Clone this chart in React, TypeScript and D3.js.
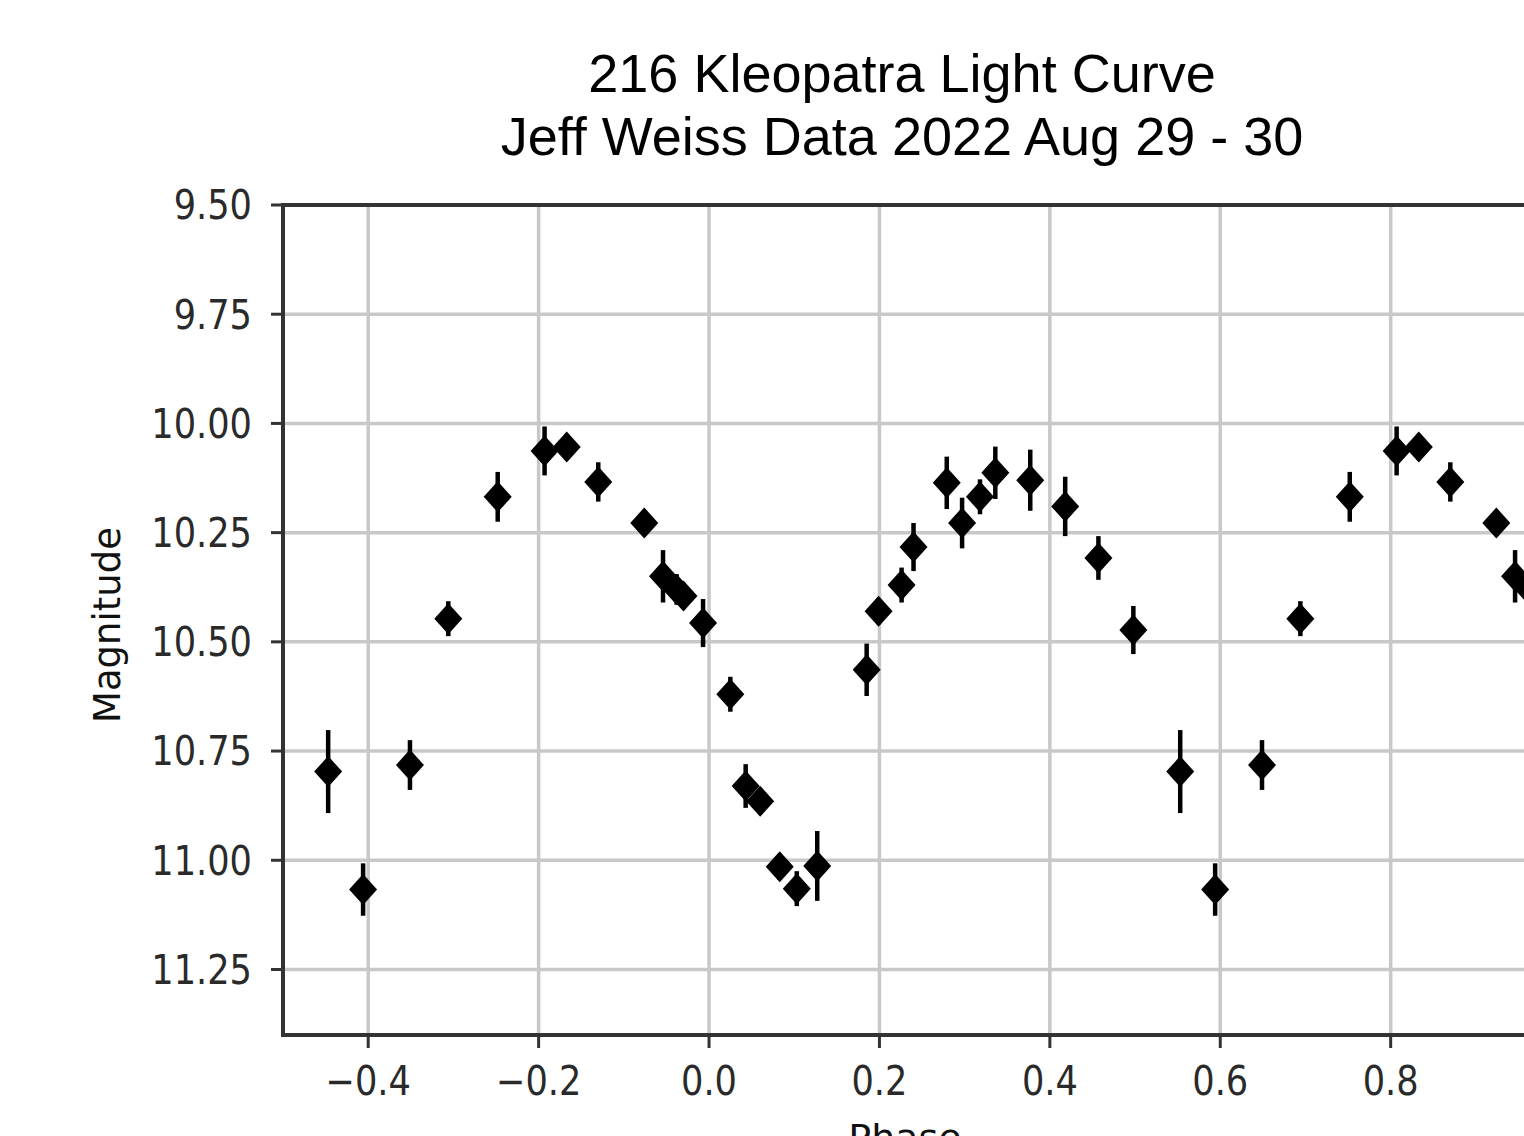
import React from 'react';
import * as d3 from 'd3';

// ─── Data ─────────────────────────────────────────────────────────────────────
const TITLE = ['216 Kleopatra Light Curve', 'Jeff Weiss Data 2022 Aug 29 - 30'];
const X_LABEL = 'Phase';
const Y_LABEL = 'Magnitude';
const X_TICKS = [-0.4, -0.2, 0.0, 0.2, 0.4, 0.6, 0.8];
const Y_TICKS = [9.5, 9.75, 10.0, 10.25, 10.5, 10.75, 11.0, 11.25];

// folded phase (0..1); points past phase 0.5 are also drawn one cycle earlier (phase - 1)
const PHASE = [
  0.025, 0.043, 0.060, 0.083, 0.103, 0.127, 0.185, 0.199, 0.226, 0.240,
  0.279, 0.297, 0.318, 0.336, 0.377, 0.418, 0.457, 0.498,
  0.553, 0.594, 0.649, 0.694, 0.752, 0.807, 0.833, 0.870, 0.924,
  0.946, 0.962, 0.970, 0.993,
];
const MAG = [
  10.62, 10.83, 10.865, 11.015, 11.065, 11.013, 10.564, 10.43, 10.37, 10.283,
  10.136, 10.228, 10.168, 10.113, 10.13, 10.19, 10.308, 10.473,
  10.797, 11.067, 10.782, 10.447, 10.168, 10.063, 10.054, 10.134, 10.228,
  10.35, 10.38, 10.395, 10.457,
];
const ERR = [
  0.04, 0.05, 0.03, 0.03, 0.04, 0.08, 0.06, 0.03, 0.04, 0.055,
  0.06, 0.058, 0.04, 0.06, 0.07, 0.068, 0.05, 0.055,
  0.095, 0.06, 0.057, 0.04, 0.057, 0.056, 0.03, 0.045, 0.03,
  0.06, 0.035, 0.03, 0.055,
];

const W = 1524;
const H = 1136;
const TICK_FONT = "'DejaVu Sans', sans-serif";

export default function App() {
  const x = d3.scaleLinear().domain([-0.5, 0.96]).range([283, 1527]);
  const y = d3.scaleLinear().domain([9.5, 11.4]).range([205, 1035]);
  const [x0, x1] = x.range();
  const [y0, y1] = y.range();
  const fx = d3.format('.1f');
  const fy = d3.format('.2f');

  const points = PHASE.flatMap((p, i) => {
    const phases = p >= 0.5 ? [p, p - 1] : [p];
    return phases.map(ph => ({ ph, m: MAG[i], e: ERR[i] }));
  });
  const diamond = 'M0,-15.5L14,0L0,15.5L-14,0Z';

  return (
    <svg width={W} height={H} style={{ position: 'absolute', left: 0, top: 0, background: '#fff' }}>
      <defs>
        <clipPath id="plot">
          <rect x={x0} y={y0} width={x1 - x0} height={y1 - y0} />
        </clipPath>
      </defs>
      <rect width={W} height={H} fill="#fff" />

      {/* Title */}
      {TITLE.map((t, i) => (
        <text key={t} x={902} y={92 + i * 63} textAnchor="middle"
          fontFamily="'Liberation Sans', Arial, sans-serif" fontSize={54} fill="#000">{t}</text>
      ))}

      {/* Gridlines */}
      <g stroke="#c8c8c8" strokeWidth={3.5}>
        {X_TICKS.map(t => <line key={'gx' + t} x1={x(t)} x2={x(t)} y1={y0} y2={y1} />)}
        {Y_TICKS.map(t => <line key={'gy' + t} x1={x0} x2={x1} y1={y(t)} y2={y(t)} />)}
      </g>

      {/* Error bars + markers */}
      <g clipPath="url(#plot)">
        {points.map((d, i) => (
          <g key={i} transform={`translate(${x(d.ph)},${y(d.m)})`}>
            <line x1={0} x2={0} y1={y(d.m - d.e) - y(d.m)} y2={y(d.m + d.e) - y(d.m)} stroke="#000" strokeWidth={4.5} />
            <path d={diamond} fill="#000" />
          </g>
        ))}
      </g>

      {/* Spines */}
      <rect x={x0} y={y0} width={x1 - x0} height={y1 - y0} fill="none" stroke="#333" strokeWidth={4} />

      {/* Y axis */}
      {Y_TICKS.map(t => (
        <g key={'ty' + t}>
          <line x1={x0 - 12} x2={x0} y1={y(t)} y2={y(t)} stroke="#333" strokeWidth={3} />
          <g transform={`translate(${x0 - 31},${y(t)}) scale(0.88,1)`}>
            <text textAnchor="end" dy="0.36em" fontFamily={TICK_FONT} fontSize={40} fill="#2a2a2a">{fy(t)}</text>
          </g>
        </g>
      ))}
      <text transform={`translate(120,625) rotate(-90)`} textAnchor="middle"
        fontFamily={TICK_FONT} fontSize={37} fill="#111">{Y_LABEL}</text>

      {/* X axis */}
      {X_TICKS.map(t => (
        <g key={'tx' + t}>
          <line x1={x(t)} x2={x(t)} y1={y1} y2={y1 + 13} stroke="#333" strokeWidth={3} />
          <g transform={`translate(${x(t)},1095) scale(0.88,1)`}>
            <text textAnchor="middle" fontFamily={TICK_FONT} fontSize={40} fill="#2a2a2a">{fx(t)}</text>
          </g>
        </g>
      ))}
      <text x={(x0 + x1) / 2} y={1151} textAnchor="middle" fontFamily={TICK_FONT} fontSize={38} fill="#111">{X_LABEL}</text>
    </svg>
  );
}
